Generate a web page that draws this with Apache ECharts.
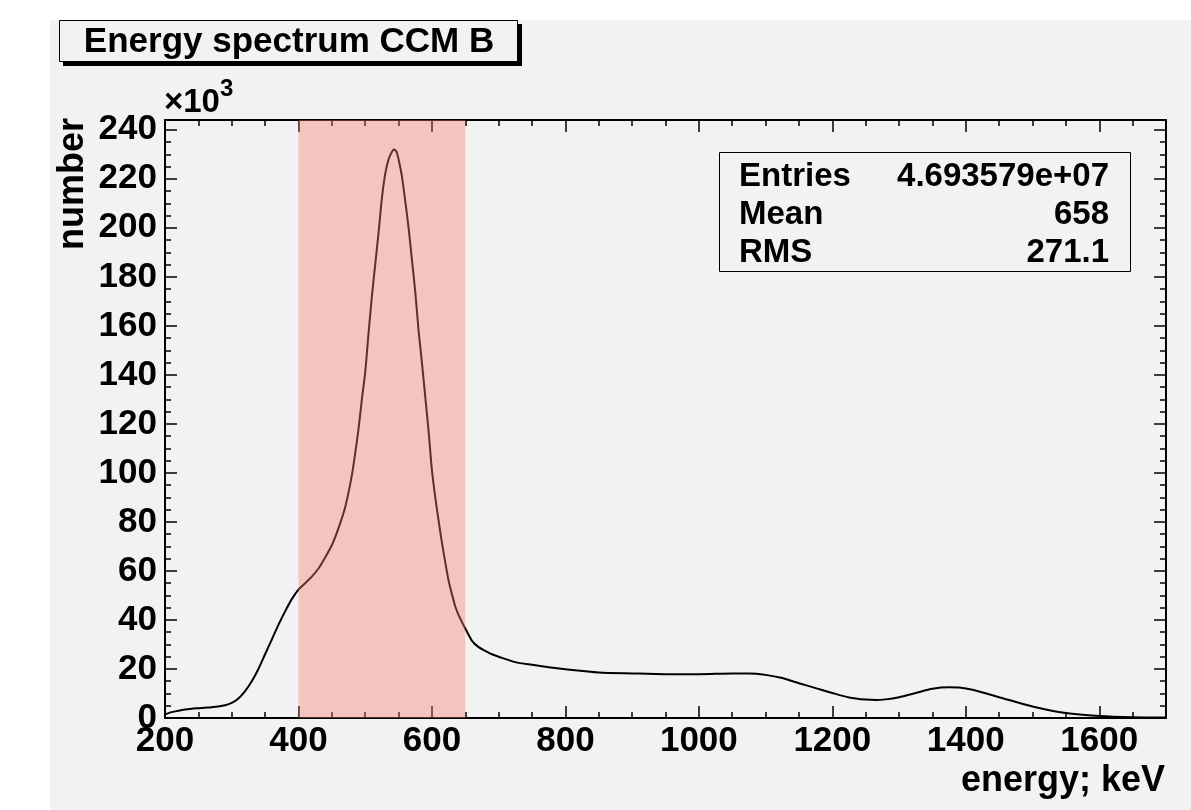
<!DOCTYPE html>
<html>
<head>
<meta charset="utf-8">
<title>Energy spectrum CCM B</title>
<script src="https://cdn.jsdelivr.net/npm/echarts@6/dist/echarts.min.js"></script>
<style>
html,body{margin:0;padding:0;background:#fff;}
#main{width:1191px;height:810px;}
</style>
</head>
<body>
<div id="main"></div>
<script>
// energy bins (keV) and counts (x10^3)
var energy = [200,210,220,230,240,250,260,270,280,290,300,310,320,330,340,350,360,370,380,390,
	400,410,420,430,440,450,460,470,480,485,490,495,500,505,510,515,520,525,530,535,540,543,547,
	550,555,560,565,570,575,580,585,590,595,600,605,610,615,620,625,630,635,640,650,660,670,680,690,700,
	725,750,775,800,850,900,950,1000,1050,1075,1100,1125,1150,1175,1200,1225,1250,1265,1280,
	1300,1325,1350,1375,1390,1410,1450,1500,1550,1600,1650,1700];
var counts = [1.5,2.4,3.0,3.5,3.8,4.0,4.2,4.4,4.7,5.2,6.2,8.0,11.0,15.0,20.0,26.0,32.0,38.0,43.5,48.5,
	52.4,55.0,57.7,61.0,65.5,70.5,77.5,86.0,99.0,108,118,130,141,157,172,185,198,212,222,228,231,232,231,
	228,221,211,200,187,174,158,145,131,117,101,90,80.5,71.5,63.5,56,50.5,45.5,42,36.5,31.5,28.9,27.4,26.0,25.0,
	22.8,21.7,20.7,19.9,18.6,18.2,17.9,17.9,18.2,18.2,17.6,16.3,14.2,12.2,10.2,8.4,7.5,7.3,7.6,
	8.5,10.2,11.9,12.5,12.4,11.5,8.5,4.7,2.0,0.8,0.3,0.2];

var bandRange = [400, 650];
var statNames = ['Entries', 'Mean', 'RMS'];
var statValues = ['4.693579e+07', '658', '271.1'];
var xRange = [200, 1700];
var yRange = [0, 244];

var font = 'Liberation Sans, Arial, Helvetica, sans-serif';

function makeX(pos, step, len, labels, line){
	return {
		type: 'value', gridIndex: 0, position: pos,
		min: xRange[0], max: xRange[1], interval: step,
		axisLine: {show: line, onZero: false, lineStyle: {color: '#000', width: 2}},
		axisTick: {show: true, inside: true, length: len, lineStyle: {color: '#000', width: 1.5}},
		axisLabel: {
			show: labels, margin: 6, fontSize: 35, fontWeight: 'bold', fontFamily: font, color: '#000',
			formatter: function(v){ return v % 200 === 0 ? String(v) : ''; }
		},
		splitLine: {show: false}
	};
}
function makeY(pos, step, len, labels, line){
	return {
		type: 'value', gridIndex: 0, position: pos,
		min: yRange[0], max: yRange[1], interval: step,
		axisLine: {show: line, onZero: false, lineStyle: {color: '#000', width: 2}},
		axisTick: {show: true, inside: true, length: len, lineStyle: {color: '#000', width: 1.5}},
		axisLabel: {
			show: labels, margin: 8, fontSize: 35, fontWeight: 'bold', fontFamily: font, color: '#000',
			formatter: function(v){ return v % 20 === 0 ? String(v) : ''; }
		},
		splitLine: {show: false}
	};
}

var data = [];
for (var i = 0; i < energy.length; i++) {
	data.push([energy[i], counts[i]]);
}

var statTexts = [];
for (var k = 0; k < statNames.length; k++) {
	var cy = 177 + k * 38;
	statTexts.push({
		type: 'text', z: 21, x: 739, y: cy,
		style: {text: statNames[k], font: 'bold 33px ' + font, fill: '#000', align: 'left', verticalAlign: 'middle'}
	});
	statTexts.push({
		type: 'text', z: 21, x: 1109, y: cy,
		style: {text: statValues[k], font: 'bold 33px ' + font, fill: '#000', align: 'right', verticalAlign: 'middle'}
	});
}

var option = {
	backgroundColor: '#f2f2f2',
	animation: false,
	grid: {left: 165, right: 25, top: 120, bottom: 92},
	xAxis: [
		makeX('bottom', 200, 12, true, true),
		makeX('bottom', 50, 6, false, false),
		makeX('top', 200, 12, false, true),
		makeX('top', 50, 6, false, false)
	],
	yAxis: [
		makeY('left', 20, 12, true, true),
		makeY('left', 5, 6, false, false),
		makeY('right', 20, 12, false, true),
		makeY('right', 5, 6, false, false)
	],
	series: [{
		type: 'line',
		xAxisIndex: 0, yAxisIndex: 0,
		data: data,
		showSymbol: false,
		smooth: 0.25,
		lineStyle: {color: '#000', width: 2},
		z: 2,
		markArea: {
			silent: true, z: 5,
			itemStyle: {color: 'rgba(246,120,105,0.38)'},
			data: [[{xAxis: bandRange[0]}, {xAxis: bandRange[1]}]]
		}
	}],
	graphic: [
		// white margins of the canvas
		{type: 'rect', z: -10, shape: {x: 0, y: 0, width: 1191, height: 20}, style: {fill: '#fff'}},
		{type: 'rect', z: -10, shape: {x: 0, y: 0, width: 50, height: 810}, style: {fill: '#fff'}},
		// title box with shadow
		{type: 'rect', z: 20, shape: {x: 63, y: 24, width: 459, height: 42}, style: {fill: '#000'}},
		{type: 'rect', z: 20, shape: {x: 59.5, y: 20.5, width: 458, height: 41}, style: {fill: '#f2f2f2', stroke: '#000', lineWidth: 1}},
		{type: 'text', z: 21, x: 289, y: 42, style: {text: 'Energy spectrum CCM B', font: 'bold 35px ' + font, fill: '#000', align: 'center', verticalAlign: 'middle'}},
		// stats box
		{type: 'rect', z: 20, shape: {x: 719.5, y: 152.5, width: 411, height: 119}, style: {fill: '#f2f2f2', stroke: '#000', lineWidth: 1}},
		// axis titles
		{type: 'text', z: 21, x: 164, y: 103, style: {text: '\u00d710', font: 'bold 33px ' + font, fill: '#000', align: 'left', verticalAlign: 'middle'}},
		{type: 'text', z: 21, x: 220, y: 89, style: {text: '3', font: 'bold 24px ' + font, fill: '#000', align: 'left', verticalAlign: 'middle'}},
		{type: 'text', z: 21, x: 73, y: 118, rotation: Math.PI / 2, style: {text: 'number', font: 'bold 36px ' + font, fill: '#000', align: 'right', verticalAlign: 'middle'}},
		{type: 'text', z: 21, x: 1165, y: 781, style: {text: 'energy; keV', font: 'bold 36px ' + font, fill: '#000', align: 'right', verticalAlign: 'middle'}}
	].concat(statTexts)
};

var myChart = echarts.init(document.getElementById('main'));
myChart.setOption(option);
</script>
</body>
</html>
